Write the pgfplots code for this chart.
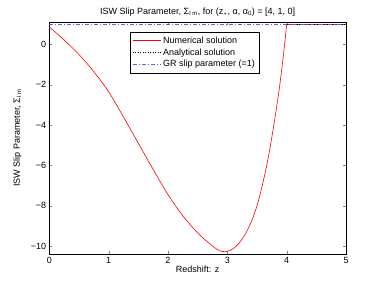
\documentclass[border=0pt]{standalone}
\usepackage{fontspec}
\setmainfont{Liberation Sans}
\usepackage{pgfplots}
\pgfplotsset{compat=1.18}
\definecolor{mred}{rgb}{1,0,0}
\definecolor{mblue}{rgb}{0.3,0.4,1}
\begin{document}
\fontsize{9}{10.8}\selectfont
\begin{tikzpicture}[x=1pt,y=1pt]
\useasboundingbox (0,0) rectangle (382,287);
\begin{axis}[
  at={(49.3pt,33pt)}, anchor=south west,
  scale only axis, width=296.7pt, height=231.7pt,
  xmin=0, xmax=5, ymin=-10.4, ymax=1.1,
  xtick={0,1,2,3,4,5},
  ytick={-10,-8,-6,-4,-2,0},
  yticklabels={−10,−8,−6,−4,−2,0},
  tick align=inside, tick pos=both,
  major tick length=3pt,
  /pgf/number format/assume math mode=true,
  tick label style={font=\fontsize{9}{10.8}\selectfont},
  label style={font=\fontsize{9}{10.8}\selectfont},
  title style={font=\fontsize{9}{10.8}\selectfont, yshift=-3pt},
  title={ISW Slip Parameter, Σ\textsubscript{l m}, for (z$_{*}$, α, α\textsubscript{0}) = [4, 1, 0]},
  xlabel={Redshift: z},
  ylabel={ISW Slip Parameter, Σ\textsubscript{l m}},
  xlabel style={yshift=4pt},
  ylabel style={yshift=3pt},
  axis line style={black, line width=0.6pt},
  legend style={at={(0.49,0.958)}, anchor=north,
    font=\fontsize{9}{10.8}\selectfont, row sep=0pt, inner sep=2.5pt},
  legend cell align=left,
  legend image code/.code={\draw[mark repeat=2,mark phase=2,#1] plot coordinates {(0pt,0pt) (14pt,0pt) (28pt,0pt)};},
]
\addplot[mred, line width=0.6pt, smooth, tension=0.6, forget plot] coordinates {
(0,0.87) (0.25,0.22) (0.5,-0.5) (0.75,-1.35) (1.0,-2.35) (1.25,-3.6)
(1.5,-4.9) (1.75,-6.2) (2.0,-7.45) (2.25,-8.5) (2.5,-9.35) (2.75,-10.0)
(2.9,-10.27) (3.05,-10.22) (3.2,-9.85) (3.35,-9.15) (3.5,-8.0) (3.65,-6.2)
(3.77,-4.25) (3.88,-2.1) (3.95,-0.4) (4.0,1)};
\addplot[mred, line width=0.6pt, forget plot] coordinates {(4.0,1) (5,1)};
\addplot[black, dotted, line width=0.5pt, forget plot] coordinates {(4,1) (5,1)};
\addplot[mblue, dash pattern=on 4pt off 2pt on 1pt off 2pt, line width=0.8pt, forget plot] coordinates {(0,1) (5,1)};
\addlegendimage{mred, line width=0.6pt}
\addlegendentry{Numerical solution}
\addlegendimage{black, dotted, line width=0.5pt}
\addlegendentry{Analytical solution}
\addlegendimage{mblue, dash pattern=on 4pt off 2pt on 1pt off 2pt, line width=0.8pt}
\addlegendentry{GR slip parameter (=1)}
\end{axis}
\end{tikzpicture}
\end{document}
